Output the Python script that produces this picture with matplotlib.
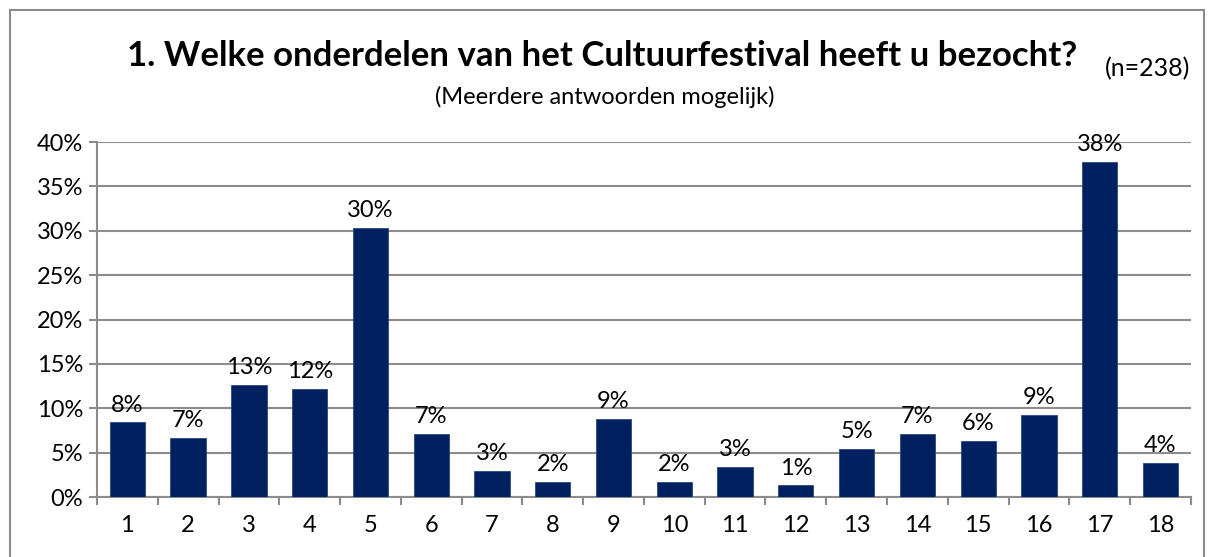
import matplotlib

matplotlib.use("Agg")
import matplotlib.pyplot as plt  # noqa: E402
from matplotlib.patches import Rectangle  # noqa: E402

# Data (aandeel respondenten per onderdeel, n=238)
categories = [str(i) for i in range(1, 19)]
values = [8.4, 6.7, 12.6, 12.2, 30.3, 7.1, 2.9, 1.7, 8.8,
          1.7, 3.4, 1.3, 5.4, 7.1, 6.3, 9.2, 37.8, 3.8]
yticks = [0, 5, 10, 15, 20, 25, 30, 35, 40]

BAR_COL = "#002060"
GRID_COL = "#8c8c8c"

plt.rcParams["font.family"] = ["Lato", "DejaVu Sans"]

fig = plt.figure(figsize=(12.09, 5.57), dpi=100)
ax = fig.add_axes([0.0802, 0.1077, 0.9048, 0.6373])

x = list(range(len(categories)))
fracs = [v / 100 for v in values]
ax.bar(x, fracs, width=0.58, color=BAR_COL, edgecolor="#2a4a80", linewidth=0.6, zorder=3)

for xi, v in zip(x, values):
    ax.annotate(f"{round(v):d}%", (xi, v / 100), xytext=(0, 5), textcoords="offset points",
                ha="center", va="bottom", fontsize=17, color="black")

ax.set_xlim(-0.5, len(categories) - 0.5)
ax.set_ylim(0, 0.4)
ax.set_yticks([t / 100 for t in yticks])
ax.set_yticklabels([f"{t}%" for t in yticks], fontsize=17)
ax.set_xticks(x)
ax.set_xticklabels(categories, fontsize=17)
ax.tick_params(axis="x", length=0, pad=13)
ax.tick_params(axis="y", length=6, color=GRID_COL, width=1.5, pad=4)
# category boundary tick marks
ax.set_xticks([i - 0.5 for i in range(len(categories) + 1)], minor=True)
ax.tick_params(axis="x", which="minor", length=6, color=GRID_COL, width=1.5)

ax.grid(axis="y", color=GRID_COL, linewidth=1.5, zorder=0)
for side in ("top", "right"):
    ax.spines[side].set_visible(False)
for side in ("left", "bottom"):
    ax.spines[side].set_color(GRID_COL)
    ax.spines[side].set_linewidth(1.5)

fig.text(0.498, 0.9, "1. Welke onderdelen van het Cultuurfestival heeft u bezocht?",
         ha="center", va="center", fontsize=25, fontweight="bold")
fig.text(0.5, 0.826, "(Meerdere antwoorden mogelijk)", ha="center", va="center", fontsize=17)
fig.text(0.949, 0.876, "(n=238)", ha="center", va="center", fontsize=18)

# outer chart border
fig.add_artist(Rectangle((10 / 1209, -0.01), 1194 / 1209, 1 - 10 / 557 + 0.01,
                         transform=fig.transFigure, fill=False,
                         edgecolor="#8c8c8c", linewidth=1.5))

fig.savefig("out.png", dpi=100)
